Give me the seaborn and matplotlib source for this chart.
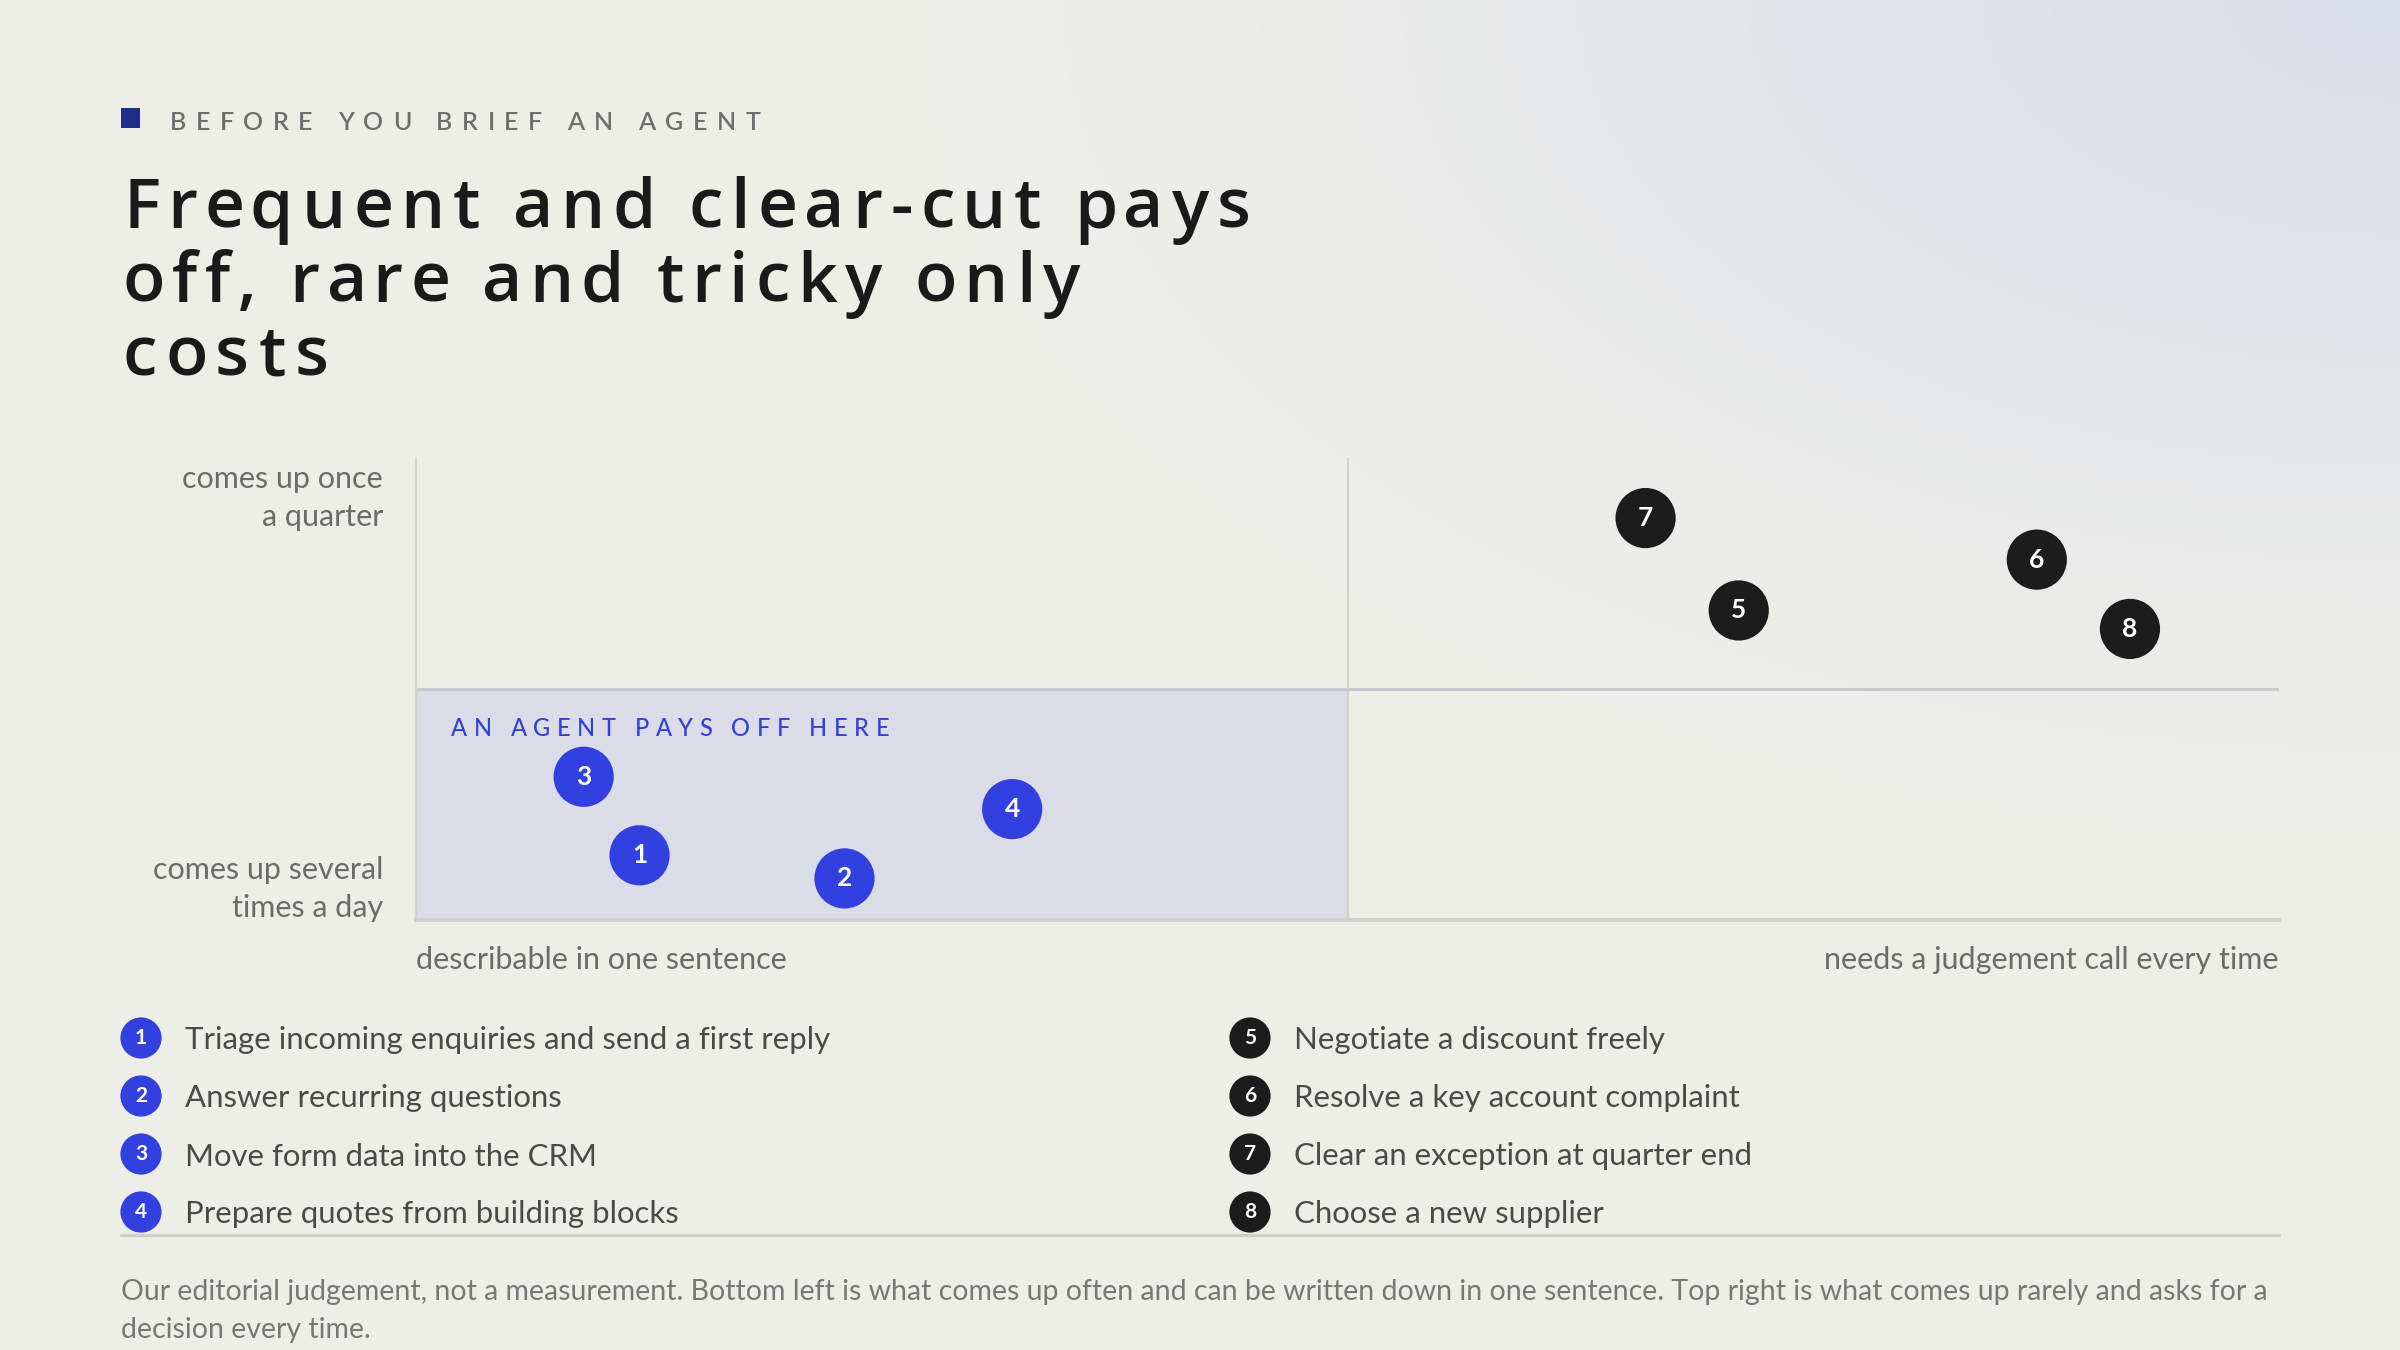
import numpy as np
import pandas as pd
import matplotlib
matplotlib.use("Agg")
import matplotlib.pyplot as plt
import seaborn as sns
from matplotlib.patches import Rectangle
from matplotlib.font_manager import FontProperties

# ---------------- data ----------------
task_ids = [1, 2, 3, 4, 5, 6, 7, 8]
task_labels = [
    "Triage incoming enquiries and send a first reply",
    "Answer recurring questions",
    "Move form data into the CRM",
    "Prepare quotes from building blocks",
    "Negotiate a discount freely",
    "Resolve a key account complaint",
    "Clear an exception at quarter end",
    "Choose a new supplier",
]
# 0 = describable in one sentence ... 10 = needs a judgement call every time
judgement = [1.2, 2.3, 0.9, 3.2, 7.1, 8.7, 6.6, 9.2]
# 0 = several times a day ... 10 = once a quarter
rarity = [1.4, 0.9, 3.1, 2.4, 6.7, 7.8, 8.7, 6.3]
group = ["agent", "agent", "agent", "agent", "human", "human", "human", "human"]

kicker = "BEFORE YOU BRIEF AN AGENT"
title_lines = ["Frequent and clear-cut pays", "off, rare and tricky only", "costs"]
y_top_label = "comes up once\na quarter"
y_bottom_label = "comes up several\ntimes a day"
x_left_label = "describable in one sentence"
x_right_label = "needs a judgement call every time"
quadrant_label = "AN AGENT PAYS OFF HERE"
footer_lines = [
    "Our editorial judgement, not a measurement. Bottom left is what comes up often and can be written down in one sentence. Top right is what comes up rarely and asks for a",
    "decision every time.",
]

BLUE = "#3340e0"
DARK = "#1c1c1c"
palette = {"agent": BLUE, "human": DARK}

# ---------------- figure ----------------
sns.set_theme(style="white")
plt.rcParams["font.family"] = ["Lato", "DejaVu Sans"]

W, H, DPI = 2400, 1350, 200
fig = plt.figure(figsize=(W / DPI, H / DPI), dpi=DPI)

# background gradient (light lavender in top-right corner)
yy, xx = np.mgrid[0:H:2, 0:W:2]
d = np.sqrt(((W - xx) / (0.62 * W)) ** 2 + (yy / (0.62 * H)) ** 2)
wgt = np.clip(1 - d, 0, 1) ** 1.3
base = np.array([238, 238, 233]) / 255
corner = np.array([218, 221, 235]) / 255
img = base[None, None, :] * (1 - wgt[..., None]) + corner[None, None, :] * wgt[..., None]
bg = fig.add_axes([0, 0, 1, 1], zorder=0)
bg.imshow(img, extent=[0, W, H, 0], aspect="auto", interpolation="bilinear")
bg.axis("off")

# main plot axes
L, R, T, B = 416, 2279, 458, 920
ax = fig.add_axes([L / W, 1 - B / H, (R - L) / W, (B - T) / H], zorder=2)
ax.patch.set_alpha(0)
ax.set_xlim(0, 10)
ax.set_ylim(0, 10)
ax.add_patch(Rectangle((0, 0), 5, 5, facecolor="#dadce7", lw=0, zorder=0))
ax.plot([5, 5], [0, 10], color="#d2d2ce", lw=0.8, zorder=1)
ax.plot([0, 10], [5, 5], color="#c9cad0", lw=1.1, zorder=1)
for s in ["top", "right"]:
    ax.spines[s].set_visible(False)
ax.spines["left"].set_color("#d2d2ce")
ax.spines["left"].set_linewidth(0.8)
ax.spines["bottom"].set_color("#cdcdc9")
ax.spines["bottom"].set_linewidth(1.3)
ax.set_xticks([])
ax.set_yticks([])

df = pd.DataFrame({"id": task_ids, "judgement": judgement, "rarity": rarity, "group": group})
sns.scatterplot(data=df, x="judgement", y="rarity", hue="group", palette=palette,
                s=470, edgecolor="none", legend=False, ax=ax, zorder=3)
for _, r in df.iterrows():
    ax.text(r["judgement"], r["rarity"], str(r["id"]), color="white", ha="center",
            va="center", fontsize=9.5, fontweight="bold", zorder=4)
ax.set_xlabel("")
ax.set_ylabel("")

# overlay in pixel coordinates
ov = fig.add_axes([0, 0, 1, 1], zorder=3)
ov.set_xlim(0, W)
ov.set_ylim(H, 0)
ov.axis("off")
ov.patch.set_alpha(0)

fig.canvas.draw()
rend = fig.canvas.get_renderer()


def tw(s, fp):
    w, h, dd = rend.get_text_width_height_descent(s, fp, ismath=False)
    return w


def tracked(x, y, s, fp, width, color):
    n = len(s)
    natural = tw(s, fp)
    track = (width - natural) / (n - 1)
    ref = tw("x", fp)
    for i, ch in enumerate(s):
        if ch == " ":
            continue
        off = 0 if i == 0 else tw(s[:i] + "x", fp) - ref
        ov.text(x + off + i * track, y, ch, fontproperties=fp, color=color,
                ha="left", va="baseline")


# header
ov.add_patch(Rectangle((121, 108), 19, 20, facecolor="#1f2e8a", lw=0))
tracked(170, 130, kicker, FontProperties(family=["Lato"], size=9, weight="semibold"), 590, "#6e6e6e")

# title
tfp = FontProperties(family=["Open Sans"], size=25, weight="semibold")
title_w = [1128, 957, 205]
for i, (line, w) in enumerate(zip(title_lines, title_w)):
    tracked(123, 228 + i * 74, line, tfp, w, "#1a1a1a")

# axis labels
lab_kw = dict(fontsize=11, color="#6b6b6b", linespacing=1.45)
ov.text(383, 526, y_top_label, ha="right", va="baseline", multialignment="right", **lab_kw)
ov.text(383, 917, y_bottom_label, ha="right", va="baseline", multialignment="right", **lab_kw)
ov.text(416, 969, x_left_label, ha="left", va="baseline", **lab_kw)
ov.text(2279, 969, x_right_label, ha="right", va="baseline", **lab_kw)

# quadrant label
tracked(451, 736, quadrant_label, FontProperties(family=["Lato"], size=8.5, weight="medium"), 438, BLUE)

# legend
row_y = [1038, 1096, 1154, 1212]
col_x = [141, 1250]
for k, (tid, lab, g) in enumerate(zip(task_ids, task_labels, group)):
    cx = col_x[k // 4]
    cy = row_y[k % 4]
    ov.scatter([cx], [cy], s=220, color=palette[g], edgecolor="none", zorder=3)
    ov.text(cx, cy, str(tid), color="white", ha="center", va="center",
            fontsize=7.5, fontweight="bold", zorder=4)
    ov.text(cx + 44, cy, lab, color="#4a4a4a", fontsize=11.2, ha="left",
            va="center_baseline")

# separator line
ov.plot([121, 2279], [1235, 1235], color="#cfcfca", lw=1.2)

# footer
for i, line in enumerate(footer_lines):
    ov.text(121, 1300 + i * 38, line, color="#777777", fontsize=10.25, ha="left", va="baseline")

fig.savefig("out.png", dpi=DPI)
